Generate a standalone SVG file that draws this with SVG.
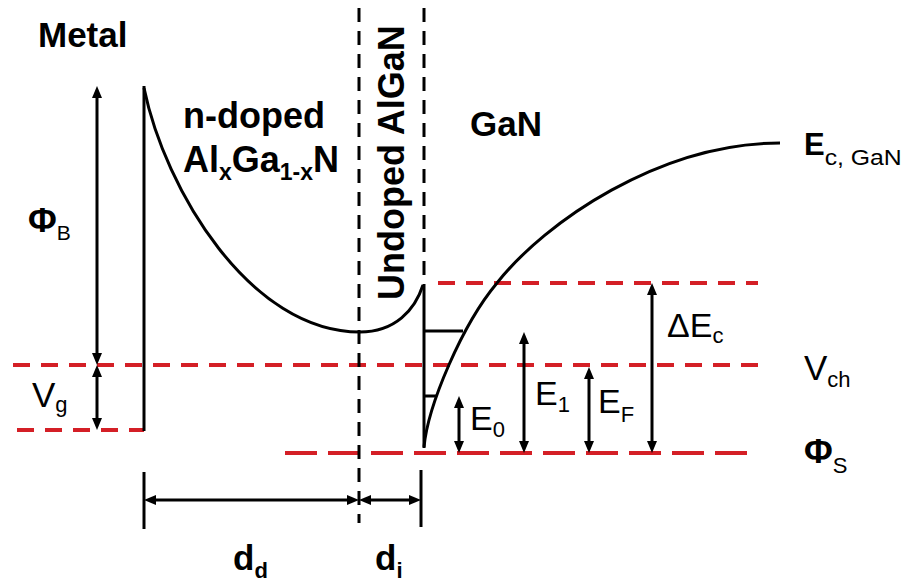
<svg xmlns="http://www.w3.org/2000/svg" width="905" height="582" viewBox="0 0 905 582">
<defs>
<style>
.t{font-family:"Liberation Sans",Arial,sans-serif;fill:#000}
.b{font-weight:bold}
.bl{fill:none;stroke:#000;stroke-width:3}
.vd{fill:none;stroke:#000;stroke-width:3;stroke-dasharray:14 9}
.rd{fill:none;stroke:#d41f26;stroke-width:4;stroke-dasharray:17 11}
.rl{fill:none;stroke:#d41f26;stroke-width:4;stroke-dasharray:32 11}
.ar{fill:none;stroke:#000;stroke-width:3;marker-start:url(#ah);marker-end:url(#ah)}
</style>
<marker id="ah" viewBox="0 0 12 10" markerWidth="12" markerHeight="10" refX="6" refY="5" orient="auto-start-reverse" markerUnits="userSpaceOnUse">
<path d="M0,0 L12,5 L0,10 z" fill="#000"/>
</marker>
</defs>
<rect width="905" height="582" fill="#fff"/>
<g id="levels">
<line class="rd" x1="13" y1="365" x2="768" y2="365"/>
<line class="rd" x1="17" y1="430" x2="144" y2="430"/>
<line class="rd" x1="438" y1="283" x2="758" y2="283"/>
<line class="rl" x1="285" y1="453" x2="750" y2="453"/>
</g>
<g id="boundaries">
<line class="vd" x1="359" y1="8" x2="359" y2="523"/>
<line class="vd" x1="424" y1="8" x2="424" y2="283"/>
</g>
<g id="bands">
<line class="bl" x1="144" y1="86" x2="144" y2="431"/>
<path class="bl" d="M144,88 C165,190 250,332 360,332 C395,332 415,310 423,285"/>
<line class="bl" x1="424" y1="284" x2="424" y2="448"/>
<path class="bl" d="M424,447 C428,405 462,325 497,283 C545,222 660,143 780,143"/>
<line class="bl" x1="424" y1="396" x2="437" y2="396"/>
<line class="bl" x1="424" y1="331" x2="463" y2="331"/>
</g>
<g id="connectors">
<line class="ar" x1="97" y1="92" x2="97" y2="359"/>
<line class="ar" x1="97" y1="371" x2="97" y2="424"/>
<line class="ar" x1="459" y1="402" x2="459" y2="447"/>
<line class="ar" x1="524" y1="338" x2="524" y2="447"/>
<line class="ar" x1="589" y1="373" x2="589" y2="447"/>
<line class="ar" x1="652" y1="289" x2="652" y2="447"/>
<line class="ar" x1="150" y1="500" x2="353" y2="500"/>
<line class="ar" x1="365" y1="500" x2="415" y2="500"/>
<line class="bl" x1="144" y1="472" x2="144" y2="529"/>
<line class="bl" x1="421" y1="470" x2="421" y2="527"/>
</g>
<g id="labels">
<text class="t b" x="38" y="47" font-size="35">Metal</text>
<text class="t b" x="183" y="128" font-size="36">n-doped</text>
<text class="t b" x="183" y="172" font-size="36">Al<tspan font-size="23" dy="8">x</tspan><tspan dy="-8">Ga</tspan><tspan font-size="23" dy="8">1-x</tspan><tspan dy="-8">N</tspan></text>
<text class="t b" font-size="36" transform="translate(404,300) rotate(-90)">Undoped AlGaN</text>
<text class="t b" x="470" y="136" font-size="35">GaN</text>
<text class="t b" x="28" y="232" font-size="35">Φ<tspan font-size="21" font-weight="normal" dy="8">B</tspan></text>
<text class="t" x="32" y="407" font-size="35">V<tspan font-size="22" dy="5">g</tspan></text>
<text class="t b" x="233" y="570" font-size="35">d<tspan font-size="22" dy="8">d</tspan></text>
<text class="t b" x="375" y="570" font-size="35">d<tspan font-size="22" dy="8">i</tspan></text>
<text class="t b" x="804" y="155" font-size="31">E<tspan font-size="22" font-weight="normal" dy="10" textLength="77" lengthAdjust="spacingAndGlyphs">c, GaN</tspan></text>
<text class="t" x="667" y="337" font-size="34">ΔE<tspan font-size="22" dy="6">c</tspan></text>
<text class="t" x="470" y="430" font-size="34">E<tspan font-size="22" dy="7">0</tspan></text>
<text class="t" x="535" y="405" font-size="34">E<tspan font-size="22" dy="7">1</tspan></text>
<text class="t" x="598" y="413" font-size="34">E<tspan font-size="22" dy="9">F</tspan></text>
<text class="t" x="804" y="380" font-size="35">V<tspan font-size="22" dy="7">ch</tspan></text>
<text class="t b" x="804" y="463" font-size="35">Φ<tspan font-size="22" font-weight="normal" dy="10">S</tspan></text>
</g>
</svg>
